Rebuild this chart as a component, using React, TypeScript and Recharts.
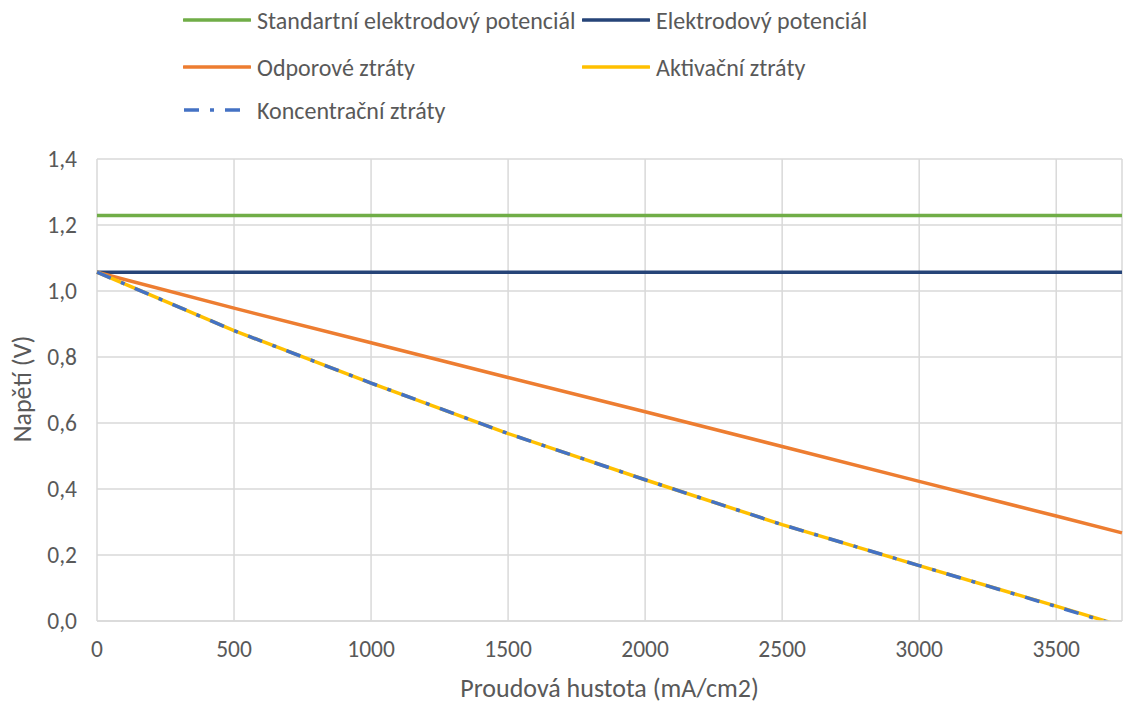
import { LineChart, Line, XAxis, YAxis, CartesianGrid, Label } from "recharts";

// current density (mA/cm2) and voltages (V)
const currentDensity = [0, 500, 1000, 1500, 2000, 2500, 3000, 3500, 3740];
const standardPotential = [1.229, 1.229, 1.229, 1.229, 1.229, 1.229, 1.229, 1.229, 1.229];
const electrodePotential = [1.057, 1.057, 1.057, 1.057, 1.057, 1.057, 1.057, 1.057, 1.057];
const ohmicLosses = [1.057, 0.948, 0.843, 0.738, 0.634, 0.529, 0.423, 0.318, 0.267];

const lossCurrent = [0, 500, 1000, 1500, 2000, 2500, 3000, 3500, 3720];
const activationLosses = [1.057, 0.88, 0.721, 0.568, 0.428, 0.292, 0.168, 0.045, -0.01];
const concentrationLosses = [1.057, 0.88, 0.721, 0.568, 0.428, 0.292, 0.168, 0.044, -0.012];

const xTicks = [0, 500, 1000, 1500, 2000, 2500, 3000, 3500];
const yTicks = [0, 0.2, 0.4, 0.6, 0.8, 1.0, 1.2, 1.4];

const series = [
  { name: "Standartní elektrodový potenciál", x: currentDensity, y: standardPotential, color: "#70AD47", dash: undefined },
  { name: "Elektrodový potenciál", x: currentDensity, y: electrodePotential, color: "#264478", dash: undefined },
  { name: "Odporové ztráty", x: currentDensity, y: ohmicLosses, color: "#ED7D31", dash: undefined },
  { name: "Aktivační ztráty", x: lossCurrent, y: activationLosses, color: "#FFC000", dash: undefined },
  { name: "Koncentrační ztráty", x: lossCurrent, y: concentrationLosses, color: "#4472C4", dash: "15 11 4 11" },
];

const FONT = "Calibri, Carlito, Lato, sans-serif";
const TEXT = "#595959";

// legend slots: [left, centre y] of each entry
const legendSlots = [
  [183, 20],
  [582, 20],
  [183, 67],
  [582, 67],
  [183, 110],
];

function toPoints(xs: number[], ys: number[]) {
  return xs.map((x, i) => ({ x, v: ys[i] }));
}

function ChartLegend() {
  return (
    <>
      {series.map((s, i) => (
        <div
          key={s.name}
          style={{
            position: "absolute",
            left: legendSlots[i][0],
            top: legendSlots[i][1] - 15,
            height: 30,
            display: "flex",
            alignItems: "center",
            fontFamily: FONT,
            fontSize: 24,
            color: TEXT,
            whiteSpace: "nowrap",
          }}
        >
          <svg width={68} height={24} style={{ marginRight: 6 }}>
            <line
              x1={1}
              y1={12}
              x2={67}
              y2={12}
              stroke={s.color}
              strokeWidth={3.5}
              strokeDasharray={s.dash}
              strokeLinecap={s.dash ? "butt" : "round"}
            />
          </svg>
          {s.name}
        </div>
      ))}
    </>
  );
}

export default function App() {
  return (
    <div style={{ position: "absolute", left: 0, top: 0, width: 1124, height: 703, background: "#fff" }}>
      <ChartLegend />
      <LineChart width={1124} height={703} margin={{ top: 159, right: 2, left: 0, bottom: 0 }}>
        <CartesianGrid stroke="#D9D9D9" strokeWidth={1.5} />
        <XAxis
          type="number"
          dataKey="x"
          domain={[0, 3740]}
          ticks={xTicks}
          height={82}
          tickSize={0}
          tickMargin={19}
          stroke="#D9D9D9"
          strokeWidth={1.5}
          tick={{ fill: TEXT, fontSize: 23.5, fontFamily: FONT }}
        >
          <Label
            value="Proudová hustota (mA/cm2)"
            position="insideBottom"
            offset={6}
            style={{ fill: TEXT, fontSize: 26, fontFamily: FONT }}
          />
        </XAxis>
        <YAxis
          type="number"
          domain={[0, 1.4]}
          ticks={yTicks}
          allowDataOverflow
          width={97}
          tickSize={0}
          tickMargin={20}
          axisLine={false}
          tickFormatter={(v: number) => v.toFixed(1).replace(".", ",")}
          tick={{ fill: TEXT, fontSize: 23.5, fontFamily: FONT }}
        >
          <Label
            content={() => (
              <text
                x={22}
                y={389}
                transform="rotate(-90 22 389)"
                textAnchor="middle"
                dominantBaseline="central"
                style={{ fill: TEXT, fontSize: 26, fontFamily: FONT }}
              >
                Napětí (V)
              </text>
            )}
          />
        </YAxis>
        {series.map((s) => (
          <Line
            key={s.name}
            data={toPoints(s.x, s.y)}
            dataKey="v"
            name={s.name}
            type="linear"
            stroke={s.color}
            strokeWidth={3.5}
            strokeDasharray={s.dash}
            dot={false}
            activeDot={false}
            isAnimationActive={false}
          />
        ))}
      </LineChart>
    </div>
  );
}
